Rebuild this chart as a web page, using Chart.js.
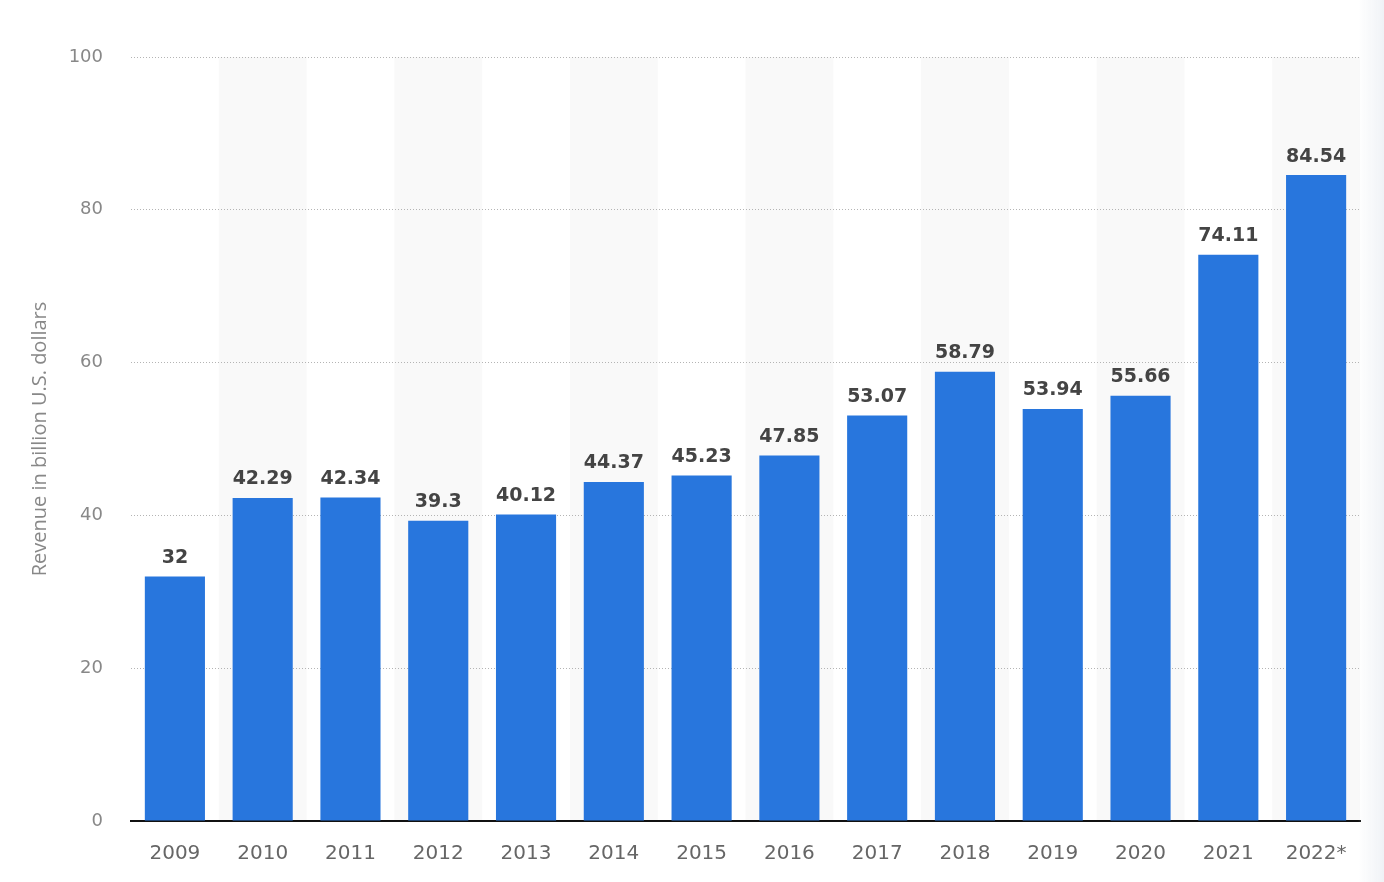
<!DOCTYPE html>
<html>
<head>
<meta charset="utf-8">
<script src="https://cdn.jsdelivr.net/npm/chart.js@4.4.0/dist/chart.umd.min.js"></script>
<style>
  html, body { margin: 0; padding: 0; background: #fff; }
  #wrap { position: relative; width: 1384px; height: 882px; }
  #fade { position: absolute; top: 0; right: 0; width: 26px; height: 882px;
          background: linear-gradient(to right, rgba(244,246,249,0), rgba(238,241,245,0.9)); pointer-events: none; }
</style>
</head>
<body>
<div id="wrap">
  <canvas id="revenueChart" width="1384" height="882"></canvas>
  <div id="fade"></div>
</div>
<script>
// 연도
const years = ['2009', '2010', '2011', '2012', '2013', '2014', '2015', '2016', '2017', '2018', '2019', '2020', '2021', '2022*'];
// 매출 (billion U.S. dollars)
const revenue = [32, 42.29, 42.34, 39.3, 40.12, 44.37, 45.23, 47.85, 53.07, 58.79, 53.94, 55.66, 74.11, 84.54];
// y축 눈금
const yTicks = [0, 20, 40, 60, 80, 100];
const yTitle = 'Revenue in billion U.S. dollars';

// 홀수 칸 배경 음영 (격자선보다 먼저 그림)
const bandPlugin = {
  id: 'bands',
  beforeDraw(chart) {
    const ctx = chart.ctx;
    const x = chart.scales.x;
    const area = chart.chartArea;
    const step = area.width / years.length;
    ctx.save();
    ctx.fillStyle = '#f9f9f9';
    years.forEach(function(y, i) {
      if (i % 2 === 1) {
        let cx = x.getPixelForValue(i);
        ctx.fillRect(cx - step / 2, area.top, step, area.bottom - area.top);
      }
    });
    ctx.restore();
  }
};

// 막대 위 값 표시 + y축 제목
const labelPlugin = {
  id: 'valueLabels',
  afterDatasetsDraw(chart) {
    const ctx = chart.ctx;
    const meta = chart.getDatasetMeta(0);
    const area = chart.chartArea;
    ctx.save();
    ctx.font = 'bold 19px "DejaVu Sans"';
    ctx.fillStyle = '#444';
    ctx.textAlign = 'center';
    ctx.textBaseline = 'bottom';
    meta.data.forEach(function(bar, i) {
      ctx.fillText(String(revenue[i]), bar.x, bar.y - 9);
    });
    ctx.restore();

    // y축 제목
    ctx.save();
    ctx.translate(40, (area.top + area.bottom) / 2);
    ctx.rotate(-Math.PI / 2);
    ctx.font = '20px "Open Sans"';
    ctx.fillStyle = '#888';
    ctx.textAlign = 'center';
    ctx.textBaseline = 'middle';
    ctx.fillText(yTitle, 0, 0);
    ctx.restore();
  }
};

const ctx = document.getElementById('revenueChart').getContext('2d');
new Chart(ctx, {
  type: 'bar',
  data: {
    labels: years,
    datasets: [{
      data: revenue,
      backgroundColor: '#2876dd',
      borderWidth: 0,
      barPercentage: 0.685,
      categoryPercentage: 1
    }]
  },
  options: {
    responsive: false,
    animation: false,
    layout: { padding: { top: 57, right: 24, left: 0, bottom: 0 } },
    plugins: {
      legend: { display: false },
      tooltip: { enabled: false }
    },
    scales: {
      x: {
        grid: { display: false },
        border: { display: true, color: '#111', width: 2 },
        ticks: { color: '#666', font: { family: 'DejaVu Sans', size: 20 }, padding: 13 },
        afterFit: function(scale) { scale.height = 61; }
      },
      y: {
        min: 0,
        max: 100,
        afterBuildTicks: function(scale) { scale.ticks = yTicks.map(function(v) { return { value: v }; }); },
        grid: { color: '#b4b4b4', lineWidth: 1, drawTicks: false },
        border: { display: false, dash: [1, 2] },
        ticks: { color: '#888', font: { family: 'DejaVu Sans', size: 18 }, padding: 28 },
        afterFit: function(scale) { scale.width = 131; }
      }
    }
  },
  plugins: [bandPlugin, labelPlugin]
});
</script>
</body>
</html>
